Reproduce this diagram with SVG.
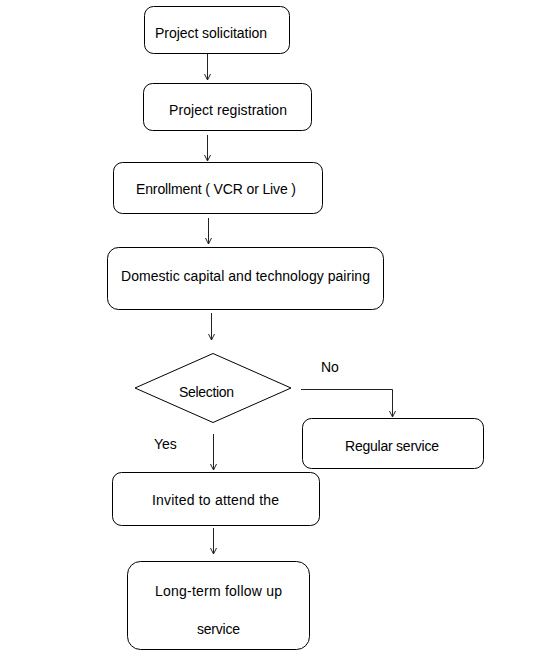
<svg xmlns="http://www.w3.org/2000/svg" width="535" height="663" viewBox="0 0 535 663">
<style>
.box{fill:#fff;stroke:#000;stroke-width:1}
.t{font-family:"Liberation Sans","DejaVu Sans",sans-serif;font-size:14px;fill:#000}
.c{fill:none;stroke:#222;stroke-width:1}
</style>
<defs>
<marker id="ah" markerWidth="8" markerHeight="8" refX="6" refY="4" orient="auto" markerUnits="userSpaceOnUse">
<path d="M0,1 L6,4 L0,7" fill="none" stroke="#222" stroke-width="1"/>
</marker>
</defs>
<rect width="535" height="663" fill="#fff"/>
<g id="connectors">
<line class="c" x1="207.5" y1="54" x2="207.5" y2="80" marker-end="url(#ah)"/>
<line class="c" x1="207.5" y1="135" x2="207.5" y2="161" marker-end="url(#ah)"/>
<line class="c" x1="208.5" y1="218" x2="208.5" y2="244" marker-end="url(#ah)"/>
<line class="c" x1="211.5" y1="313" x2="211.5" y2="340" marker-end="url(#ah)"/>
<polyline class="c" points="301,389.5 392.5,389.5 392.5,417" marker-end="url(#ah)"/>
<line class="c" x1="213.5" y1="434" x2="213.5" y2="470" marker-end="url(#ah)"/>
<line class="c" x1="213.5" y1="528" x2="213.5" y2="554" marker-end="url(#ah)"/>
<text class="t" x="321" y="372">No</text>
<text class="t" x="154" y="449">Yes</text>
</g>
<g id="n1">
<rect class="box" x="144.5" y="6.5" width="145" height="47" rx="9"/>
<text class="t" x="155" y="38" textLength="112">Project solicitation</text>
</g>
<g id="n2">
<rect class="box" x="143.5" y="83.5" width="168" height="47" rx="9"/>
<text class="t" x="169" y="115" textLength="118">Project registration</text>
</g>
<g id="n3">
<rect class="box" x="113.5" y="162.5" width="209" height="51" rx="9"/>
<text class="t" x="136" y="194" textLength="160">Enrollment ( VCR or Live )</text>
</g>
<g id="n4">
<rect class="box" x="107.5" y="247.5" width="276" height="62" rx="11"/>
<text class="t" x="121" y="281" textLength="249">Domestic capital and technology pairing</text>
</g>
<g id="n5">
<polygon class="box" points="213,353.5 291,388 213,422.5 135,388"/>
<text class="t" x="179" y="397" textLength="55">Selection</text>
</g>
<g id="n6">
<rect class="box" x="302.5" y="418.5" width="181" height="50" rx="9"/>
<text class="t" x="345" y="451" textLength="94">Regular service</text>
</g>
<g id="n7">
<rect class="box" x="112.5" y="472.5" width="207" height="53" rx="9"/>
<text class="t" x="152" y="505" textLength="127">Invited to attend the</text>
</g>
<g id="n8">
<rect class="box" x="127.5" y="561.5" width="182" height="88" rx="13"/>
<text class="t" x="155" y="596" textLength="127">Long-term follow up</text>
<text class="t" x="197" y="634" textLength="43">service</text>
</g>
</svg>
